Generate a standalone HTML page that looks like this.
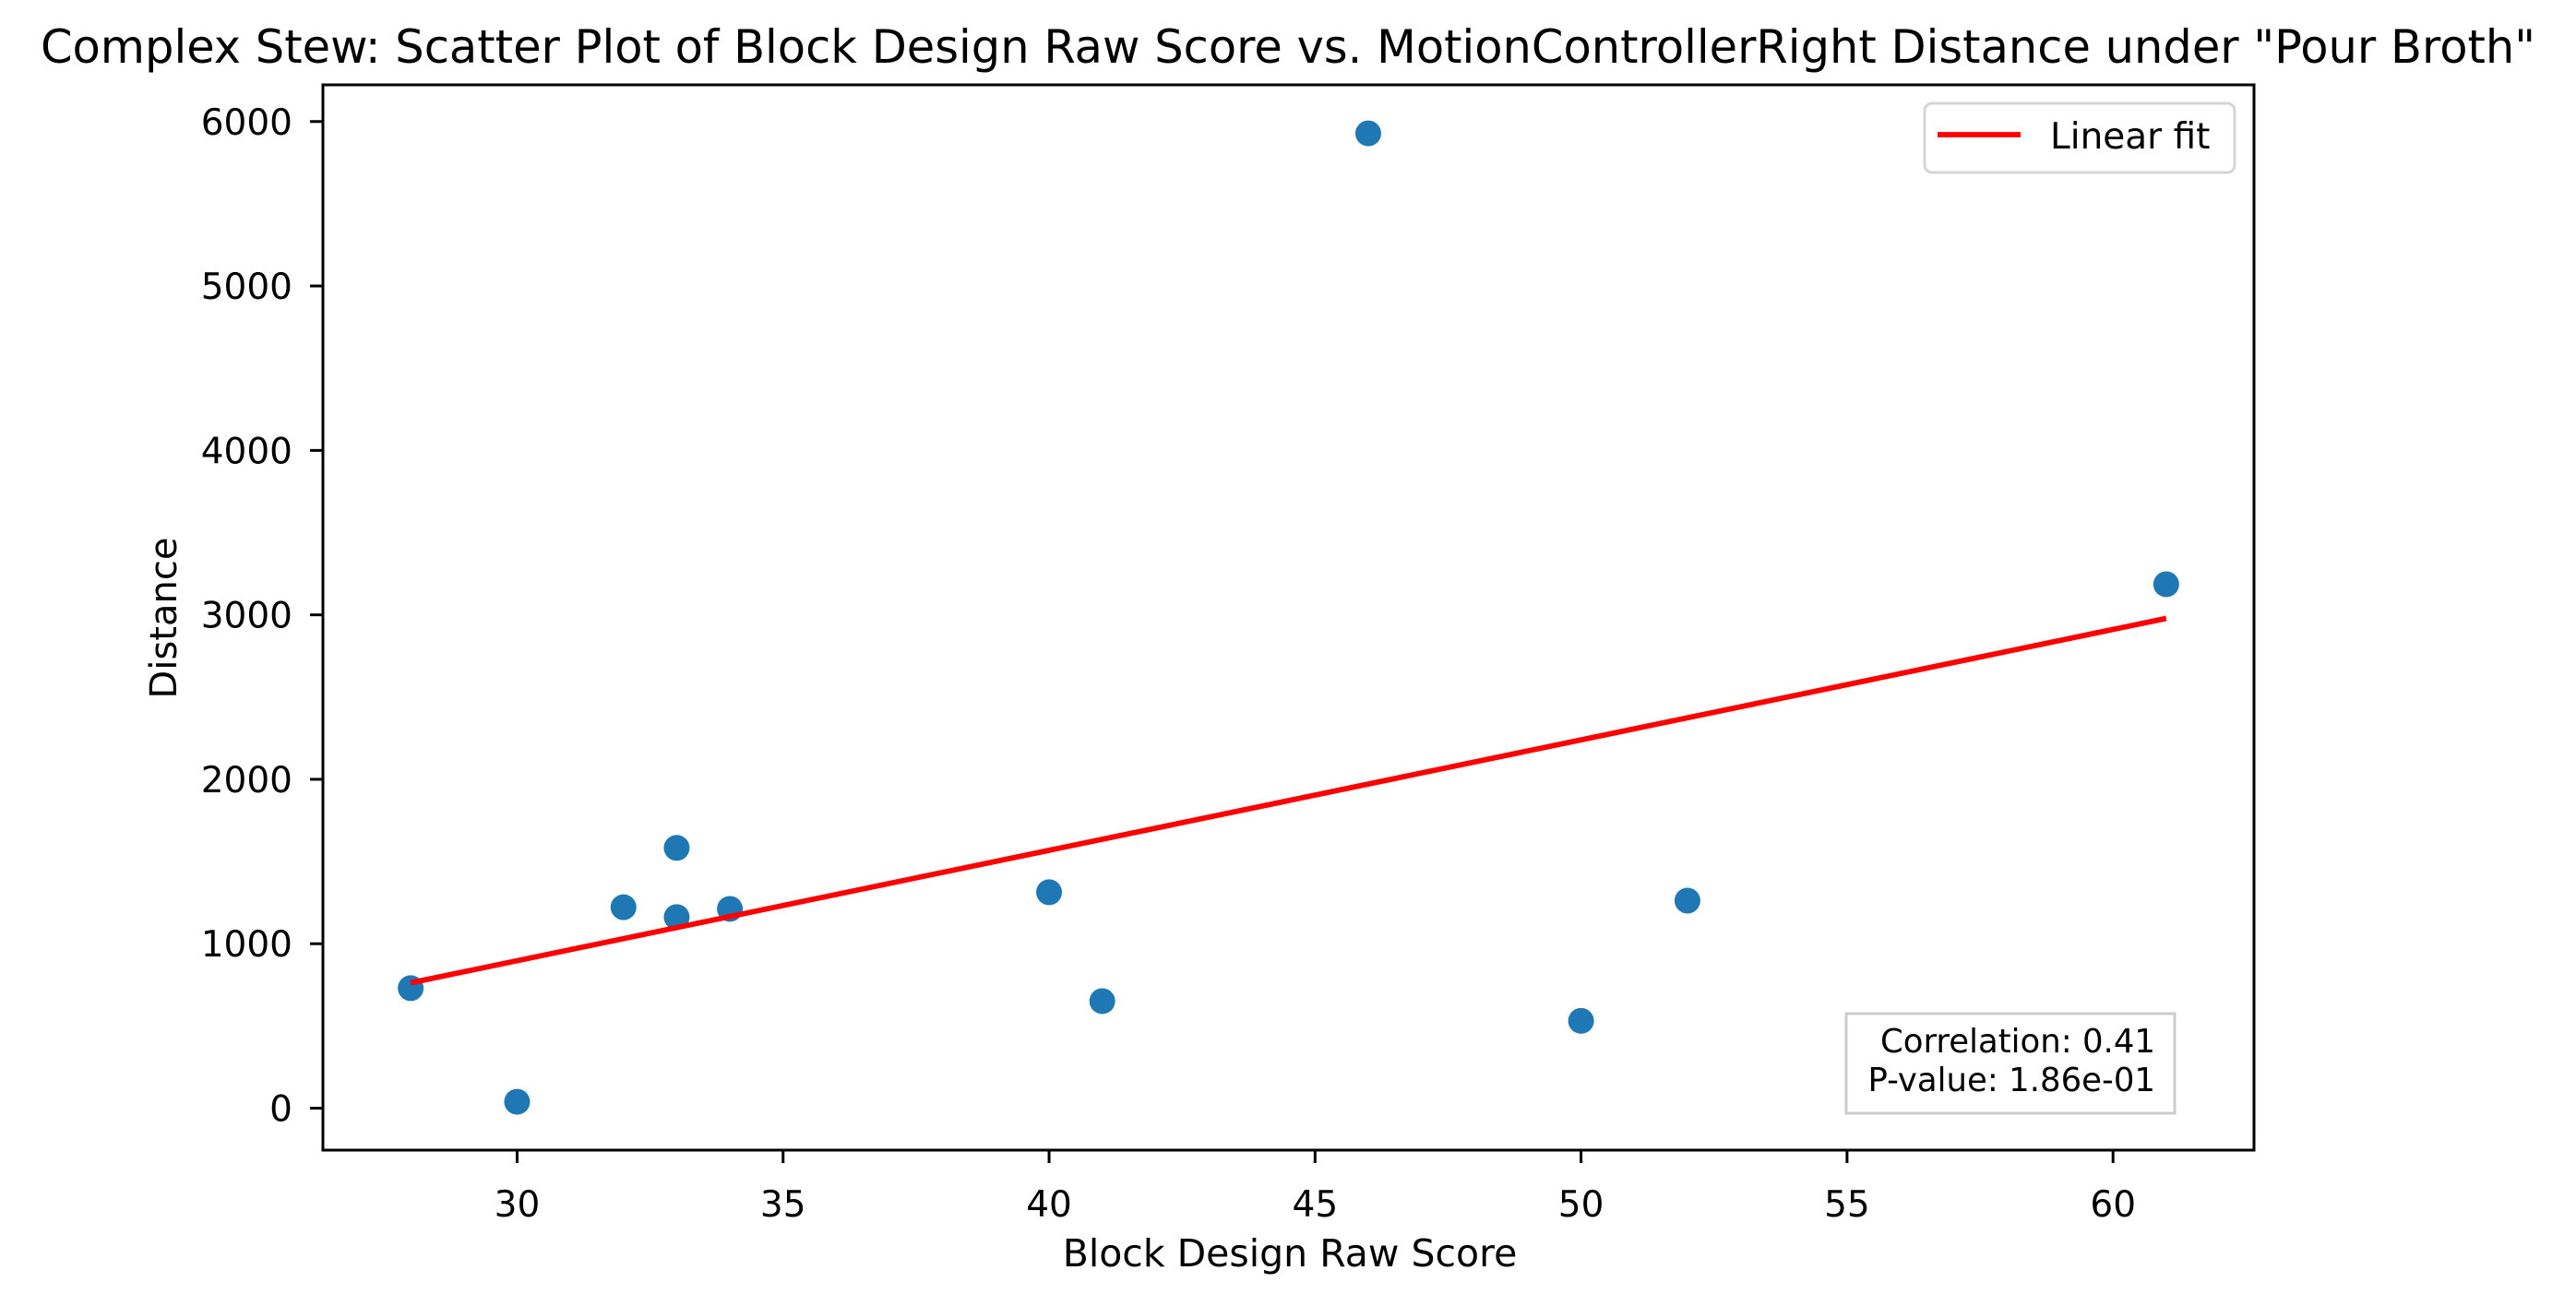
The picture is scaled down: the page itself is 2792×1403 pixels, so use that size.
<!DOCTYPE html>
<html><head><meta charset="utf-8"><style>
body{margin:0;background:#fff}
svg{display:block;font-family:"DejaVu Sans","Liberation Sans",sans-serif}
</style></head><body>
<svg id="chart" width="2792" height="1403" viewBox="0 0 2792 1403" xmlns="http://www.w3.org/2000/svg">
<rect width="2792" height="1403" fill="#fff"/>
<text x="1396" y="68" font-size="49.5" text-anchor="middle">Complex Stew: Scatter Plot of Block Design Raw Score vs. MotionControllerRight Distance under "Pour Broth"</text>
<g id="xticks"></g><g id="yticks"></g>
<g id="marks"></g>
<rect x="350" y="92" width="2093" height="1155" fill="none" stroke="#000" stroke-width="3"/>
<text x="1398" y="1373" font-size="41" text-anchor="middle">Block Design Raw Score</text>
<text x="204" y="670" font-size="40" text-anchor="middle" transform="rotate(-90 204 670)" dy="-13">Distance</text>
<g>
<rect x="2086" y="112" width="336" height="75" rx="8" fill="#fff" stroke="#d5d5d5" stroke-width="3"/>
<line x1="2100" y1="146" x2="2190" y2="146" stroke="#ff0000" stroke-width="5.8"/>
<text x="2222" y="161" font-size="39">Linear fit</text>
</g>
<g>
<rect x="2001" y="1099" width="356" height="108" fill="#fff" stroke="#ccc" stroke-width="3"/>
<text x="2336" y="1141" font-size="35.5" text-anchor="end">Correlation: 0.41</text>
<text x="2336" y="1183" font-size="35.5" text-anchor="end">P-value: 1.86e-01</text>
</g>
</svg>
<script>
const xValues=[28,30,32,33,33,34,40,41,46,50,52,61];
const yValues=[730,39,1222,1583,1162,1212,1313,651,5928,531,1262,3186];
const xTicks=[30,35,40,45,50,55,60];
const yTicks=[0,1000,2000,3000,4000,5000,6000];
const NS='http://www.w3.org/2000/svg';
const L=350,R=2443,T=92,B=1247;
const xmin=26.35,xmax=62.65,ymin=-255,ymax=6223;
const sx=v=>L+(v-xmin)/(xmax-xmin)*(R-L);
const sy=v=>B-(v-ymin)/(ymax-ymin)*(B-T);
function mk(tag,attrs,parent){const e=document.createElementNS(NS,tag);for(const k in attrs)e.setAttribute(k,attrs[k]);parent.appendChild(e);return e;}
const xg=document.getElementById('xticks'),yg=document.getElementById('yticks'),mg=document.getElementById('marks');
xTicks.forEach(t=>{
  const l=mk('line',{x1:sx(t),x2:sx(t),y1:B,y2:B+14,stroke:'#000','stroke-width':3},xg);
  
  
  const s=mk('text',{x:sx(t),y:B+72,'font-size':39,'text-anchor':'middle'},xg);
  s.textContent=t;
  
  
});
yTicks.forEach(t=>{
  const l=mk('line',{x1:L-14,x2:L,y1:sy(t),y2:sy(t),stroke:'#000','stroke-width':3},yg);
  
  
  const s=mk('text',{x:L-33,y:sy(t)+14,'font-size':39,'text-anchor':'end'},yg);
  s.textContent=t;
  
  
});
xValues.forEach((x,i)=>{
  const c=mk('circle',{cx:sx(x),cy:sy(yValues[i]),r:14,fill:'#1f77b4'},mg);
  
  
});
const n=xValues.length,mx=xValues.reduce((a,b)=>a+b)/n,my=yValues.reduce((a,b)=>a+b)/n;
let sxy=0,sxx=0;xValues.forEach((x,i)=>{sxy+=(x-mx)*(yValues[i]-my);sxx+=(x-mx)*(x-mx);});
const slope=sxy/sxx,icpt=my-slope*mx;
const x0=Math.min(...xValues),x1=Math.max(...xValues);
const fl=mk('line',{x1:sx(x0),y1:sy(icpt+slope*x0),x2:sx(x1),y2:sy(icpt+slope*x1),stroke:'#ff0000','stroke-width':5.8},mg);


</script>
</body></html>
